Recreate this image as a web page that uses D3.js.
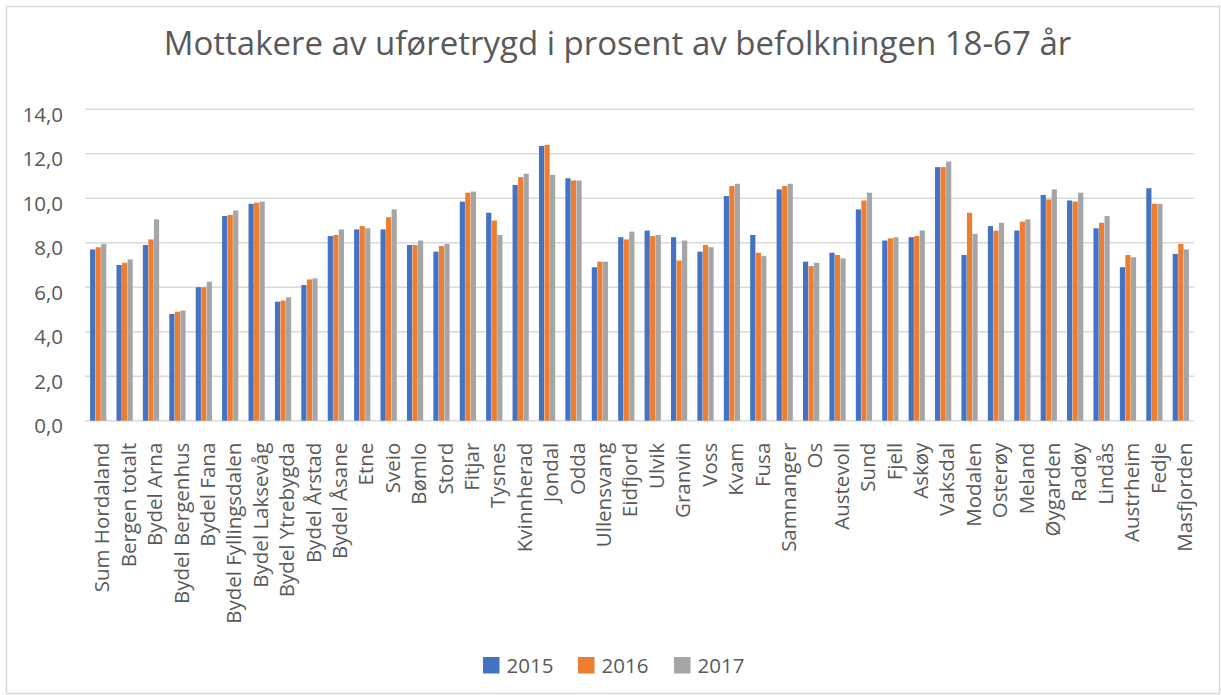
<!DOCTYPE html>
<html>
<head>
<meta charset="utf-8">
<script src="https://cdn.jsdelivr.net/npm/d3@7"></script>
<style>
  html, body { margin: 0; padding: 0; background: #fff; }
  svg { display: block; }
  text { font-family: "Open Sans", "Noto Sans", sans-serif; fill: #595959; }
</style>
</head>
<body>
<svg id="chart" width="1221" height="695"></svg>
<script>
const title = "Mottakere av uføretrygd i prosent av befolkningen 18-67 år";
const categories = ["Sum Hordaland","Bergen totalt","Bydel Arna","Bydel Bergenhus","Bydel Fana","Bydel Fyllingsdalen","Bydel Laksevåg","Bydel Ytrebygda","Bydel Årstad","Bydel Åsane","Etne","Sveio","Bømlo","Stord","Fitjar","Tysnes","Kvinnherad","Jondal","Odda","Ullensvang","Eidfjord","Ulvik","Granvin","Voss","Kvam","Fusa","Samnanger","Os","Austevoll","Sund","Fjell","Askøy","Vaksdal","Modalen","Osterøy","Meland","Øygarden","Radøy","Lindås","Austrheim","Fedje","Masfjorden"];
const seriesNames = ["2015","2016","2017"];
const values2015 = [7.7,7.0,7.9,4.8,6.0,9.2,9.75,5.35,6.1,8.3,8.6,8.6,7.9,7.6,9.85,9.35,10.6,12.35,10.9,6.9,8.25,8.55,8.25,7.6,10.1,8.35,10.4,7.15,7.55,9.5,8.1,8.25,11.4,7.45,8.75,8.55,10.15,9.9,8.65,6.9,10.45,7.5];
const values2016 = [7.8,7.1,8.15,4.9,6.0,9.25,9.8,5.4,6.35,8.35,8.75,9.15,7.9,7.85,10.25,9.0,10.95,12.4,10.8,7.15,8.15,8.3,7.2,7.9,10.55,7.55,10.55,6.95,7.45,9.9,8.2,8.3,11.4,9.35,8.55,8.95,9.95,9.85,8.9,7.45,9.75,7.95];
const values2017 = [7.95,7.25,9.05,4.95,6.25,9.45,9.85,5.55,6.4,8.6,8.65,9.5,8.1,7.95,10.3,8.35,11.1,11.05,10.8,7.15,8.5,8.35,8.1,7.8,10.65,7.4,10.65,7.1,7.3,10.25,8.25,8.55,11.65,8.4,8.9,9.05,10.4,10.25,9.2,7.35,9.75,7.7];
const colors = ["#4472C4","#ED7D31","#A5A5A5"];
const yTicks = [0,2,4,6,8,10,12,14];

const seriesValues = [values2015, values2016, values2017];
const svg = d3.select("#chart");

// frame
svg.append("rect").attr("x",6.5).attr("y",6.5).attr("width",1213).attr("height",687)
  .attr("fill","#fff").attr("stroke","#d9d9d9").attr("stroke-width",1.5);

const plot = {left:85, right:1194, top:109.3, bottom:420.7};

const x0 = d3.scaleBand().domain(categories).range([plot.left, plot.right]).paddingInner(0).paddingOuter(0);
const groupW = x0.bandwidth()*0.615;
const x1 = d3.scaleBand().domain(seriesNames).range([0, groupW]).paddingInner(0.06);
const y = d3.scaleLinear().domain([0,14]).range([plot.bottom, plot.top]);

// gridlines
svg.append("g").selectAll("line").data(yTicks).join("line")
  .attr("x1",plot.left).attr("x2",plot.right)
  .attr("y1",d=>y(d)).attr("y2",d=>y(d))
  .attr("stroke","#d9d9d9").attr("stroke-width",1.5);

// y axis labels
const yAxis = d3.axisLeft(y).tickValues(yTicks).tickSize(0).tickPadding(0)
  .tickFormat(d=>d3.format(".1f")(d).replace(".",","));
const yg = svg.append("g").attr("transform",`translate(63,0)`).call(yAxis);
yg.select(".domain").remove();
yg.selectAll("text").attr("font-size",20.5).attr("fill","#595959")
  .attr("font-family","Open Sans").attr("dy","0.58em");

// bars
const groups = svg.append("g").selectAll("g").data(categories).join("g")
  .attr("transform",d=>`translate(${x0(d)+(x0.bandwidth()-groupW)/2},0)`);
groups.selectAll("rect").data((c,i)=>seriesNames.map((s,j)=>({s, v: seriesValues[j][i], j})))
  .join("rect")
  .attr("x",d=>x1(d.s)).attr("width",x1.bandwidth())
  .attr("y",d=>y(d.v)).attr("height",d=>y(0)-y(d.v))
  .attr("fill",d=>colors[d.j]);

// x axis labels
const xAxis = d3.axisBottom(x0).tickSize(0).tickPadding(0);
const xg = svg.append("g").attr("transform",`translate(0,${plot.bottom})`).call(xAxis);
xg.select(".domain").remove();
xg.selectAll("text")
  .attr("font-size",20.5).attr("fill","#595959").attr("font-family","Open Sans")
  .attr("text-anchor","end")
  .attr("transform","rotate(-90)")
  .attr("x",-22).attr("y",4).attr("dy","0.35em");

// title
svg.append("text").attr("x",617.5).attr("y",55).attr("text-anchor","middle")
  .attr("font-size",33).attr("fill","#595959").text(title);

// legend
const legendX = [483, 578, 674];
const lg = svg.append("g").selectAll("g").data(seriesNames).join("g")
  .attr("transform",(d,i)=>`translate(${legendX[i]},657)`);
lg.append("rect").attr("width",16.5).attr("height",16.5).attr("fill",(d,i)=>colors[i]);
lg.append("text").attr("x",23.5).attr("y",16.3).attr("font-size",20.5).attr("fill","#595959").text(d=>d);
</script>
</body>
</html>
